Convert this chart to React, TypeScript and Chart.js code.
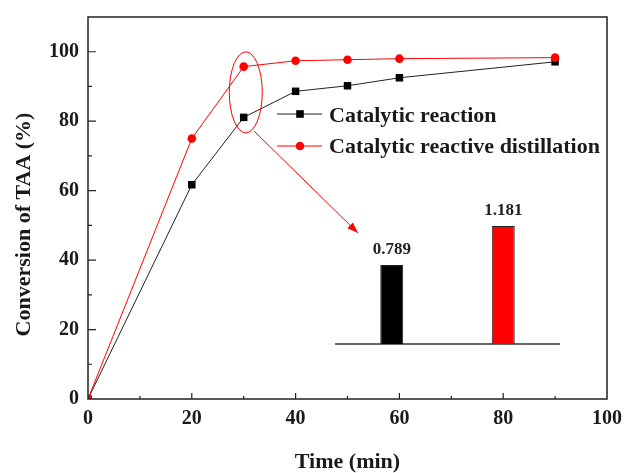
import React, { useEffect, useRef } from 'react';
import { Chart, registerables } from 'chart.js';
Chart.register(...registerables);

const timeMin = [0, 20, 30, 40, 50, 60, 90];
const catalyticReaction = [0, 61.7, 81.1, 88.6, 90.2, 92.5, 97.1];
const catalyticReactiveDistillation = [0, 75.0, 95.7, 97.4, 97.7, 98.0, 98.3];
const xTickValues = [0, 20, 40, 60, 80, 100];
const yTickValues = [0, 20, 40, 60, 80, 100];
const seriesNames = ['Catalytic reaction', 'Catalytic reactive distillation'];
const insetValues = [0.789, 1.181];
const insetLabels = ['0.789', '1.181'];
const yTitle = 'Conversion of TAA (%)';
const xTitle = 'Time (min)';

const SERIF = '"Liberation Serif", "Times New Roman", serif';
const INK = '#1a1a1a';
const RED = '#ff0000';

const mainDecor = {
  id: 'mainDecor',
  afterDatasetsDraw(chart: any) {
    const { ctx, chartArea: a, scales } = chart;
    const xs = scales.x;
    const ys = scales.y;
    ctx.save();
    // box
    ctx.strokeStyle = '#222';
    ctx.lineWidth = 1.5;
    ctx.strokeRect(a.left, a.top, a.right - a.left, a.bottom - a.top);
    // inside ticks
    ctx.lineWidth = 1.2;
    ctx.beginPath();
    for (let v = 10; v < 100; v += 10) {
      const px = xs.getPixelForValue(v);
      const len = v % 20 === 0 ? 6 : 3;
      ctx.moveTo(px, a.bottom);
      ctx.lineTo(px, a.bottom - len);
    }
    for (let v = 10; v < 110; v += 10) {
      const py = ys.getPixelForValue(v);
      const len = v % 20 === 0 ? 8 : 4;
      ctx.moveTo(a.left, py);
      ctx.lineTo(a.left + len, py);
    }
    ctx.stroke();

    // y axis title
    ctx.fillStyle = INK;
    ctx.font = `bold 22px ${SERIF}`;
    ctx.textAlign = 'center';
    ctx.textBaseline = 'middle';
    ctx.save();
    ctx.translate(24, 224.5);
    ctx.rotate(-Math.PI / 2);
    ctx.fillText(yTitle, 0, 0);
    ctx.restore();

    // ellipse highlight
    const cx = xs.getPixelForValue(30.4);
    const cy = ys.getPixelForValue(88.3);
    ctx.strokeStyle = RED;
    ctx.lineWidth = 1;
    ctx.beginPath();
    ctx.ellipse(cx, cy, 16.5, 40.5, 0, 0, Math.PI * 2);
    ctx.stroke();
    // arrow
    const x1 = 254, y1 = 131, x2 = 358, y2 = 233;
    ctx.beginPath();
    ctx.moveTo(x1, y1);
    ctx.lineTo(x2, y2);
    ctx.stroke();
    const ang = Math.atan2(y2 - y1, x2 - x1);
    const hl = 11, hw = 4;
    ctx.fillStyle = RED;
    ctx.beginPath();
    ctx.moveTo(x2, y2);
    ctx.lineTo(x2 - hl * Math.cos(ang) + hw * Math.sin(ang), y2 - hl * Math.sin(ang) - hw * Math.cos(ang));
    ctx.lineTo(x2 - hl * Math.cos(ang) - hw * Math.sin(ang), y2 - hl * Math.sin(ang) + hw * Math.cos(ang));
    ctx.closePath();
    ctx.fill();

    // legend
    const rows = [
      { name: seriesNames[0], color: '#222', fill: '#000', y: 114, base: 122, shape: 'rect' },
      { name: seriesNames[1], color: RED, fill: RED, y: 146, base: 153, shape: 'circle' },
    ];
    rows.forEach((r) => {
      ctx.strokeStyle = r.color;
      ctx.lineWidth = 1;
      ctx.beginPath();
      ctx.moveTo(277, r.y);
      ctx.lineTo(322, r.y);
      ctx.stroke();
      ctx.fillStyle = r.fill;
      if (r.shape === 'rect') {
        ctx.fillRect(300 - 3.8, r.y - 3.8, 7.6, 7.6);
      } else {
        ctx.beginPath();
        ctx.arc(300, r.y, 4.3, 0, Math.PI * 2);
        ctx.fill();
      }
      ctx.fillStyle = INK;
      ctx.font = `bold 22px ${SERIF}`;
      ctx.textAlign = 'left';
      ctx.textBaseline = 'alphabetic';
      ctx.fillText(r.name, 329, r.base);
    });
    ctx.restore();
  },
};

const insetLabelPlugin = {
  id: 'insetLabels',
  afterDatasetsDraw(chart: any) {
    const { ctx } = chart;
    const meta = chart.getDatasetMeta(0);
    ctx.save();
    ctx.fillStyle = '#222';
    ctx.font = `bold 17px ${SERIF}`;
    ctx.textAlign = 'center';
    ctx.textBaseline = 'alphabetic';
    meta.data.forEach((bar: any, i: number) => {
      ctx.fillText(insetLabels[i], bar.x, bar.y - 11);
    });
    ctx.restore();
  },
};

export default function App() {
  const mainRef = useRef<HTMLCanvasElement>(null);
  const insetRef = useRef<HTMLCanvasElement>(null);

  useEffect(() => {
    const tickFont = { family: SERIF, size: 20, weight: 'bold' as const };
    const titleFont = { family: SERIF, size: 22, weight: 'bold' as const, lineHeight: 1 };
    const main = new Chart(mainRef.current!, {
      type: 'line',
      data: {
        datasets: [
          {
            label: seriesNames[1],
            data: timeMin.map((t, i) => ({ x: t, y: catalyticReactiveDistillation[i] })),
            borderColor: RED,
            backgroundColor: RED,
            borderWidth: 1,
            pointStyle: 'circle',
            pointRadius: 4.3,
            pointBorderWidth: 0,
            tension: 0,
            order: 0,
          },
          {
            label: seriesNames[0],
            data: timeMin.map((t, i) => ({ x: t, y: catalyticReaction[i] })),
            borderColor: '#222',
            backgroundColor: '#000',
            borderWidth: 1,
            pointStyle: 'rect',
            pointRadius: 5.3,
            pointBorderWidth: 0,
            tension: 0,
            order: 1,
          },
        ],
      },
      options: {
        responsive: false,
        animation: false,
        layout: { padding: { top: 17, right: 17, left: 0, bottom: 0 } },
        plugins: { legend: { display: false }, tooltip: { enabled: false } },
        scales: {
          x: {
            type: 'linear',
            min: 0,
            max: 100,
            afterBuildTicks: (s: any) => {
              s.ticks = xTickValues.map((v) => ({ value: v }));
            },
            grid: { display: false, drawTicks: false },
            border: { display: false },
            ticks: { font: tickFont, color: INK, padding: 8, maxRotation: 0, autoSkip: false },
            title: { display: true, text: xTitle, font: titleFont, color: INK, padding: { top: 0, bottom: 0 } },
            afterFit: (s: any) => {
              s.height = 74;
              s.paddingLeft = 0;
              s.paddingRight = 0;
            },
          },
          y: {
            type: 'linear',
            min: 0,
            max: 110,
            afterBuildTicks: (s: any) => {
              s.ticks = yTickValues.map((v) => ({ value: v }));
            },
            grid: { display: false, drawTicks: false },
            border: { display: false },
            ticks: { font: tickFont, color: INK, padding: 9, autoSkip: false },
            afterFit: (s: any) => {
              s.width = 88;
              s.paddingTop = 0;
              s.paddingBottom = 0;
            },
          },
        },
      },
      plugins: [mainDecor],
    } as any);

    const inset = new Chart(insetRef.current!, {
      type: 'bar',
      data: {
        labels: seriesNames,
        datasets: [
          {
            data: insetValues,
            backgroundColor: ['#000000', RED],
            borderColor: '#222',
            borderWidth: 1,
            barPercentage: 0.206,
            categoryPercentage: 1,
          },
        ],
      },
      options: {
        responsive: false,
        animation: false,
        layout: { padding: { left: 6, right: 11, top: 14, bottom: 6 } },
        plugins: { legend: { display: false }, tooltip: { enabled: false } },
        scales: {
          x: {
            grid: { display: false, drawTicks: false },
            ticks: { display: false },
            border: { display: true, color: '#666', width: 2 },
            afterFit: (s: any) => {
              s.height = 0;
            },
          },
          y: { display: false, min: 0, max: 1.4 },
        },
      },
      plugins: [insetLabelPlugin],
    } as any);

    return () => {
      main.destroy();
      inset.destroy();
    };
  }, []);

  return (
    <div style={{ position: 'fixed', left: 0, top: 0, width: 624, height: 473, background: '#fff' }}>
      <canvas ref={mainRef} width={624} height={473} style={{ position: 'absolute', left: 0, top: 0 }} />
      <canvas ref={insetRef} width={240} height={160} style={{ position: 'absolute', left: 330, top: 190 }} />
    </div>
  );
}
